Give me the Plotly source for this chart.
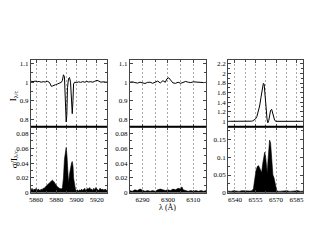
import plotly.graph_objects as go

# ---------------- data ----------------
wl1 = [5855, 5857, 5859, 5861, 5863, 5865, 5867, 5869, 5871, 5873, 5874, 5875, 5876, 5877,
       5879, 5881, 5883, 5885, 5886, 5887, 5888, 5889, 5889.7, 5890.3, 5891, 5892, 5893,
       5894, 5895, 5895.7, 5896.4, 5897, 5898, 5900, 5902, 5904, 5906, 5908, 5910, 5912,
       5914, 5916, 5918, 5920, 5922, 5924, 5926, 5928, 5930]
I1 = [1.005, 1.003, 1.006, 1.002, 1.004, 1.0, 1.003, 1.001, 1.005, 1.0, 0.99, 0.978, 0.979,
      0.983, 0.986, 0.99, 0.995, 1.0, 1.01, 1.04, 1.03, 0.9, 0.785, 0.82, 0.97, 1.02, 1.025,
      1.0, 0.9, 0.83, 0.9, 0.99, 1.0, 0.998, 1.002, 0.999, 1.003, 1.0, 1.004, 1.001, 1.003,
      1.0, 1.005, 1.01, 1.006, 1.0, 1.002, 0.999, 1.0]

wlS1 = [5855, 5856, 5857, 5858, 5859, 5860, 5861, 5862, 5863, 5864, 5865, 5866, 5867, 5868,
        5870, 5872, 5874, 5876, 5877, 5879, 5881, 5883, 5885, 5886, 5887, 5888, 5889, 5889.7,
        5890.5, 5891, 5892, 5893, 5894, 5895, 5895.7, 5896.5, 5897, 5898, 5899, 5900, 5901,
        5902, 5903, 5904, 5905, 5906, 5907, 5908, 5909, 5910, 5911, 5912, 5913, 5914, 5915,
        5916, 5917, 5918, 5919, 5920, 5921, 5922, 5923, 5924, 5925, 5926, 5927, 5928, 5929, 5930]
S1 = [0.004, 0.006, 0.003, 0.005, 0.004, 0.006, 0.003, 0.005, 0.004, 0.003, 0.005, 0.004,
      0.006, 0.006, 0.009, 0.012, 0.015, 0.017, 0.016, 0.012, 0.008, 0.006, 0.005, 0.007,
      0.02, 0.045, 0.058, 0.061, 0.05, 0.03, 0.013, 0.025, 0.035, 0.04, 0.042, 0.035, 0.02,
      0.008, 0.004, 0.003, 0.004, 0.002, 0.004, 0.003, 0.005, 0.003, 0.004, 0.006, 0.003,
      0.004, 0.006, 0.005, 0.007, 0.004, 0.005, 0.003, 0.006, 0.004, 0.007, 0.005, 0.004,
      0.003, 0.006, 0.005, 0.004, 0.005, 0.003, 0.005, 0.004, 0.003]

wl2 = [6285, 6286, 6287, 6288, 6289, 6290, 6291, 6292, 6293, 6294, 6295, 6296, 6297, 6298,
       6299, 6299.6, 6300.3, 6301, 6302, 6303, 6304, 6305, 6306, 6307, 6308, 6309, 6310,
       6311, 6312, 6313, 6314, 6315]
I2 = [1.0, 1.002, 0.998, 0.995, 1.0, 0.996, 0.993, 0.999, 1.0, 0.994, 0.998, 1.006, 0.996,
      1.008, 1.0, 1.018, 1.024, 1.01, 0.996, 0.994, 1.0, 0.994, 0.998, 1.004, 1.0, 0.998,
      1.002, 1.0, 1.001, 1.0, 0.998, 0.999]

wlS2 = [6285, 6286, 6287, 6288, 6289, 6290, 6291, 6292, 6293, 6294, 6295, 6296, 6297, 6298,
        6299, 6300, 6301, 6302, 6303, 6304, 6305, 6305.5, 6306, 6307, 6308, 6309, 6310,
        6311, 6312, 6313, 6314, 6315]
S2 = [0.003, 0.002, 0.004, 0.003, 0.005, 0.004, 0.002, 0.003, 0.002, 0.003, 0.002, 0.004,
      0.005, 0.004, 0.003, 0.004, 0.003, 0.005, 0.004, 0.006, 0.005, 0.008, 0.004, 0.003,
      0.002, 0.003, 0.002, 0.003, 0.002, 0.003, 0.002, 0.003]

wl3 = [6535, 6538, 6541, 6544, 6547, 6550, 6552, 6553, 6554, 6555, 6556, 6557, 6558, 6559,
       6560, 6560.7, 6561.3, 6562, 6562.7, 6563.4, 6564, 6564.7, 6565.4, 6566, 6566.8,
       6567.5, 6568.2, 6569, 6570, 6571, 6573, 6576, 6580, 6585, 6590]
I3 = [1.0, 0.998, 1.0, 1.0, 0.998, 1.0, 1.003, 1.01, 1.03, 1.05, 1.1, 1.19, 1.32, 1.5, 1.7,
      1.79, 1.78, 1.6, 1.3, 1.05, 0.97, 1.02, 1.15, 1.23, 1.25, 1.18, 1.08, 1.02, 1.0, 1.0,
      1.0, 1.0, 1.0, 1.0, 1.0]

wlS3 = [6535, 6537, 6539, 6541, 6543, 6545, 6547, 6549, 6551, 6552.5, 6553.5, 6554.5,
        6555.5, 6556.5, 6557.3, 6558, 6559, 6559.5, 6560.2, 6561, 6561.7, 6562.4, 6563,
        6563.6, 6564.1, 6564.7, 6565.3, 6566, 6567, 6567.7, 6568.5, 6569.5, 6570.5, 6572,
        6574, 6576, 6578, 6580, 6582, 6584, 6586, 6588, 6590]
S3 = [0.005, 0.004, 0.006, 0.005, 0.004, 0.006, 0.005, 0.004, 0.005, 0.006, 0.012, 0.04,
      0.065, 0.075, 0.076, 0.07, 0.06, 0.057, 0.08, 0.105, 0.114, 0.1, 0.07, 0.055, 0.09,
      0.13, 0.148, 0.14, 0.09, 0.05, 0.042, 0.02, 0.006, 0.004, 0.005, 0.004, 0.006, 0.004,
      0.005, 0.004, 0.006, 0.004, 0.005]

top_title = "I<sub>λ/c</sub>"
bot_title = "σ/I<sub>λ/c</sub>"
x_title = "λ (Å)"

# ---------------- layout geometry ----------------
W, H = 317, 245
xdom = [[29.3 / W, 106 / W], [129 / W, 206 / W], [228.3 / W, 304.3 / W]]
ytop = [1 - 128.7 / H, 1 - 61 / H]
ybot = [1 - 196 / H, 1 - 128.7 / H]

xranges = [[5855, 5930], [6285, 6315], [6535, 6590]]
xtick = [(5860, 20, 10), (6290, 10, 5), (6540, 15, 7.5)]
ytop_ranges = [[0.76, 1.12], [0.76, 1.12], [0.89, 2.28]]
ytop_ticks = [(0.1, 0.05), (0.1, 0.05), (0.2, 0.1)]
ybot_ranges = [[0, 0.089], [0, 0.089], [0, 0.186]]
ybot_ticks = [(0.02, 0.01), (0.02, 0.01), (0.05, 0.025)]

FONT = "Liberation Serif"
AX = "#444"
GRID = "#aaa"
DASH = "2px,2px"

fig = go.Figure()
tops = [(wl1, I1), (wl2, I2), (wl3, I3)]
bots = [(wlS1, S1), (wlS2, S2), (wlS3, S3)]

layout = {}
for k in range(3):
    nt = 2 * k + 1
    nb = 2 * k + 2
    xt = "x" if nt == 1 else f"x{nt}"
    yt = "y" if nt == 1 else f"y{nt}"
    fig.add_trace(go.Scatter(x=tops[k][0], y=tops[k][1], mode="lines",
                             line=dict(color="black", width=1),
                             xaxis=xt, yaxis=yt, showlegend=False))
    fig.add_trace(go.Scatter(x=bots[k][0], y=bots[k][1], mode="lines", fill="tozeroy",
                             fillcolor="black", line=dict(color="black", width=0.6),
                             xaxis=f"x{nb}", yaxis=f"y{nb}", showlegend=False))
    t0, dt, mdt = xtick[k]
    for n, dom_y, showlab in ((nt, ytop, False), (nb, ybot, True)):
        kx = "xaxis" if n == 1 else f"xaxis{n}"
        ky = "yaxis" if n == 1 else f"yaxis{n}"
        layout[kx] = dict(domain=xdom[k], anchor="y" if n == 1 else f"y{n}",
                          range=xranges[k], tick0=t0, dtick=dt, showticklabels=showlab,
                          ticks="inside", ticklen=3, tickcolor=AX, mirror="allticks",
                          showline=True, linecolor=AX, linewidth=1,
                          showgrid=True, gridcolor=GRID, griddash=DASH, gridwidth=0.8,
                          zeroline=False,
                          minor=dict(dtick=mdt, tick0=t0, ticks="inside", ticklen=2,
                                     tickcolor=AX, showgrid=True, gridcolor=GRID,
                                     griddash=DASH, gridwidth=0.8),
                          tickfont=dict(family=FONT, size=7, color="black"))
        if n == nt:
            yr = ytop_ranges[k]
            ydt, ymdt = ytop_ticks[k]
        else:
            yr = ybot_ranges[k]
            ydt, ymdt = ybot_ticks[k]
        layout[ky] = dict(domain=dom_y, anchor="x" if n == 1 else f"x{n}",
                          range=yr, dtick=ydt, tick0=0, ticks="inside", ticklen=3,
                          tickcolor=AX, mirror="allticks", showline=True, linecolor=AX,
                          linewidth=1, showgrid=False, zeroline=False,
                          minor=dict(dtick=ymdt, tick0=0, ticks="inside", ticklen=2,
                                     tickcolor=AX),
                          tickfont=dict(family=FONT, size=7, color="black"))

shapes = []
for k in range(3):
    shapes.append(dict(type="line", xref="paper", yref="paper", x0=xdom[k][0], x1=xdom[k][1],
                       y0=ytop[0], y1=ytop[0], line=dict(color="black", width=1.5)))

annotations = [
    dict(text=top_title, x=12 / W, y=1 - 97 / H, xref="paper", yref="paper", showarrow=False,
         xanchor="center", yanchor="middle",
         textangle=-90, font=dict(family=FONT, size=9, color="black")),
    dict(text=bot_title, x=12 / W, y=1 - 162 / H, xref="paper", yref="paper", showarrow=False,
         xanchor="center", yanchor="middle",
         textangle=-90, font=dict(family=FONT, size=9, color="black")),
    dict(text=x_title, x=167 / W, y=1 - 211 / H, xref="paper", yref="paper", showarrow=False,
         xanchor="center", yanchor="middle",
         font=dict(family=FONT, size=8, color="black")),
]

fig.update_layout(width=W, height=H, margin=dict(l=0, r=0, t=0, b=0),
                  paper_bgcolor="white", plot_bgcolor="white",
                  shapes=shapes, annotations=annotations, **layout)

fig.write_html("out.html", config={"displayModeBar": False})

# remove default page margin so the figure sits at the window's top-left corner
with open("out.html", "r", encoding="utf-8") as f:
    html = f.read()
html = html.replace("<head>", "<head><style>html,body{margin:0;padding:0;overflow:hidden;}</style>", 1)
with open("out.html", "w", encoding="utf-8") as f:
    f.write(html)
